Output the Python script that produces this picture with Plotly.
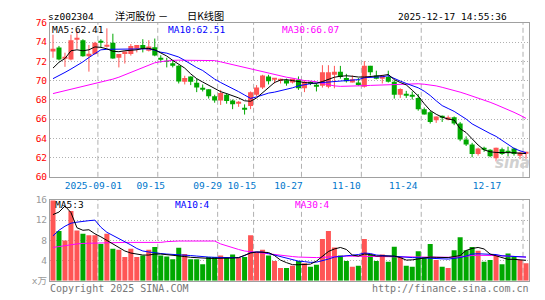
import plotly.graph_objects as go

W, H = 545, 300

# ---------------- data ----------------
opens = [73.03, 73.43, 72.28, 72.20, 74.30, 74.20, 72.53, 72.77, 74.00, 73.60,
         73.93, 72.37, 72.77, 72.77, 73.30, 73.70, 73.10, 73.47, 72.30, 72.00,
         71.80, 71.55, 69.87, 70.43, 69.77, 69.15, 69.10, 68.37, 67.93, 68.53,
         67.93, 67.60, 67.06, 67.37, 68.53, 69.27, 70.43, 70.15, 70.00, 70.03,
         69.80, 70.10, 69.20, 69.72, 69.50, 69.47, 69.37, 70.60, 70.93, 70.27,
         69.80, 69.80, 69.37, 71.53, 70.53, 70.27, 70.37, 69.87, 68.53, 68.55,
         68.40, 68.20, 67.03, 66.70, 65.87, 66.22, 65.93, 66.20, 65.53, 63.87,
         63.37, 62.37, 62.89, 62.80, 61.93, 62.87, 62.62, 62.93, 62.20, 62.42]
highs = [74.77, 73.60, 72.90, 74.77, 75.20, 74.30, 73.70, 74.03, 74.30, 75.43,
         74.87, 72.77, 73.03, 73.80, 73.70, 74.30, 74.20, 74.37, 72.63, 72.37,
         72.03, 71.60, 70.50, 70.43, 70.20, 69.60, 69.10, 68.53, 69.03, 68.70,
         68.03, 67.87, 67.53, 68.87, 69.53, 70.60, 70.60, 70.20, 70.20, 70.20,
         70.20, 70.43, 70.03, 69.93, 69.70, 71.60, 71.60, 71.53, 71.53, 70.70,
         70.53, 70.27, 72.03, 71.53, 71.03, 70.60, 71.03, 70.03, 69.20, 68.93,
         68.87, 68.60, 67.20, 66.87, 66.27, 66.37, 66.37, 66.27, 65.70, 64.20,
         63.53, 63.03, 63.13, 62.87, 63.03, 63.03, 63.13, 63.03, 62.60, 62.60]
lows = [72.37, 72.10, 71.43, 72.10, 73.30, 72.47, 70.93, 72.70, 73.43, 73.43,
        72.27, 71.37, 71.77, 72.60, 72.93, 72.93, 73.03, 72.53, 71.87, 71.37,
        71.37, 69.70, 69.60, 69.53, 68.80, 68.87, 68.13, 67.70, 67.47, 67.60,
        67.03, 67.27, 66.47, 67.03, 68.37, 69.13, 69.60, 69.70, 69.70, 69.47,
        69.70, 69.03, 68.80, 69.53, 68.87, 69.27, 69.20, 69.20, 70.20, 69.80,
        69.80, 69.47, 69.27, 70.53, 70.13, 69.70, 69.80, 68.13, 68.20, 68.20,
        68.03, 66.87, 66.47, 65.53, 65.60, 65.70, 65.87, 65.37, 63.70, 63.20,
        62.03, 62.20, 62.60, 62.03, 61.60, 62.27, 62.03, 62.20, 61.83, 61.87]
closes = [73.30, 72.20, 72.38, 74.20, 74.40, 72.53, 72.80, 73.93, 73.95, 73.67,
          72.30, 72.77, 73.03, 73.60, 73.70, 73.37, 73.53, 72.60, 72.25, 71.95,
          71.55, 69.90, 70.27, 69.87, 69.27, 69.10, 68.37, 67.93, 68.70, 67.87,
          67.53, 67.67, 67.00, 68.80, 69.27, 70.53, 69.93, 70.20, 70.05, 69.70,
          70.20, 69.20, 69.87, 69.68, 69.45, 70.87, 70.87, 70.93, 70.37, 69.93,
          70.13, 69.53, 71.53, 70.87, 70.20, 70.47, 69.87, 68.53, 69.13, 68.50,
          68.35, 67.03, 66.47, 65.70, 66.27, 66.18, 66.20, 65.53, 63.87, 63.37,
          62.37, 62.93, 62.85, 62.13, 63.03, 62.37, 62.58, 62.37, 62.53, 62.47]
volumes = [15.9, 9.84, 8.0, 13.8, 9.97, 9.33, 9.0, 9.0, 7.3, 9.33,
           6.35, 6.16, 4.7, 6.35, 4.7, 5.0, 6.16, 6.67, 5.0, 4.83,
           4.25, 6.54, 5.33, 4.25, 4.25, 3.3, 4.7, 4.7, 5.0, 4.57,
           5.2, 4.57, 4.7, 9.0, 5.7, 6.16, 5.0, 3.94, 2.54, 2.54,
           3.0, 3.94, 3.5, 2.8, 3.17, 8.25, 9.84, 6.6, 5.0, 3.94,
           2.8, 3.0, 8.25, 5.2, 3.94, 5.2, 3.75, 6.73, 4.7, 3.0,
           2.8, 5.84, 4.7, 7.3, 4.13, 2.8, 2.54, 6.03, 8.63, 6.03,
           6.67, 5.97, 3.75, 4.13, 5.0, 3.3, 5.4, 4.9, 4.13, 3.5]

ma5 = [71.3, 71.9, 72.3, 73.1, 73.2, 73.1, 73.2, 73.5, 73.45, 73.3,
       73.05, 73.0, 73.1, 73.15, 73.2, 73.35, 73.35, 73.2, 72.9, 72.55,
       72.1, 71.7, 71.3, 70.7, 70.2, 69.85, 69.5, 69.2, 68.85, 68.65,
       68.45, 68.2, 67.9, 67.85, 68.2, 68.75, 69.25, 69.8, 70.05, 70.1,
       70.0, 69.87, 69.8, 69.75, 69.72, 69.9, 70.1, 70.35, 70.45, 70.5,
       70.45, 70.37, 70.37, 70.4, 70.45, 70.53, 70.63, 70.1, 69.8, 69.55,
       69.0, 68.4, 67.6, 66.9, 66.5, 66.2, 66.0, 65.9, 65.0, 64.6,
       63.95, 63.3, 62.8, 62.6, 62.53, 62.53, 62.5, 62.5, 62.45, 62.41]
ma10 = [70.2, 70.5, 70.85, 71.2, 71.55, 71.95, 72.4, 72.8, 73.2, 73.25,
        73.25, 73.28, 73.3, 73.3, 73.3, 73.3, 73.3, 73.15, 72.95, 72.85,
        72.65, 72.45, 72.1, 71.7, 71.35, 71.05, 70.6, 70.15, 69.8, 69.5,
        69.2, 68.85, 68.5, 68.15, 68.3, 68.5, 68.7, 68.8, 68.95, 69.05,
        69.25, 69.45, 69.6, 69.68, 69.75, 69.8, 69.88, 69.95, 70.0, 70.05,
        70.08, 70.1, 70.3, 70.33, 70.37, 70.4, 70.5, 70.2, 69.95, 69.7,
        69.5, 69.25, 68.9, 68.45, 67.9, 67.4, 67.1, 66.8, 66.4, 66.0,
        65.5, 65.15, 64.8, 64.5, 64.2, 63.8, 63.4, 62.95, 62.7, 62.51]
ma30 = [68.65, 68.8, 68.95, 69.1, 69.25, 69.4, 69.55, 69.65, 69.8, 69.95,
        70.15, 70.35, 70.6, 70.85, 71.1, 71.4, 71.65, 71.85, 71.97, 72.05,
        72.1, 72.12, 72.12, 72.12, 72.1, 72.1, 72.1, 72.08, 71.95, 71.8,
        71.65, 71.5, 71.35, 71.2, 71.05, 70.9, 70.78, 70.65, 70.5, 70.35,
        70.25, 70.1, 70.0, 69.95, 69.88, 69.7, 69.55, 69.45, 69.4, 69.4,
        69.42, 69.45, 69.47, 69.5, 69.52, 69.55, 69.6, 69.62, 69.65, 69.68,
        69.68, 69.67, 69.62, 69.55, 69.45, 69.3, 69.15, 69.0, 68.8, 68.6,
        68.4, 68.15, 67.95, 67.75, 67.5, 67.25, 67.0, 66.7, 66.4, 66.07]
vma5 = [13.1, 13.6, 14.8, 13.5, 10.5, 10.0, 10.1, 9.3, 8.7, 8.0,
        7.3, 6.6, 5.9, 5.5, 5.3, 5.1, 5.1, 5.3, 5.3, 5.2,
        5.1, 4.95, 4.8, 4.65, 4.55, 4.45, 4.45, 4.44, 4.44, 4.44,
        4.5, 4.6, 5.1, 5.5, 5.7, 5.7, 5.6, 5.0, 4.1, 3.6,
        3.2, 3.17, 3.17, 3.3, 3.9, 4.9, 5.8, 6.3, 6.6, 6.2,
        5.1, 4.9, 5.3, 5.2, 4.9, 4.9, 4.9, 4.9, 4.6, 4.1,
        4.15, 4.3, 4.5, 4.7, 4.65, 4.6, 4.6, 4.8, 5.0, 6.0,
        6.4, 6.6, 6.3, 5.3, 4.9, 4.5, 4.25, 4.25, 4.2, 4.06]
vma10 = [8.9, 10.0, 10.8, 11.4, 11.6, 11.8, 11.9, 12.0, 10.6, 9.6,
         9.0, 8.4, 7.8, 7.1, 6.4, 5.9, 5.7, 5.5, 5.4, 5.3,
         5.25, 5.2, 5.1, 5.0, 4.9, 4.75, 4.7, 4.65, 4.6, 4.57,
         4.57, 4.57, 5.0, 5.6, 5.7, 5.7, 5.4, 5.1, 4.9, 4.6,
         4.2, 3.9, 3.8, 3.65, 3.7, 3.95, 4.3, 4.7, 4.8, 4.9,
         5.0, 5.2, 5.5, 5.4, 5.1, 5.0, 4.9, 4.8, 4.7, 4.65,
         4.6, 4.57, 4.5, 4.45, 4.35, 4.25, 4.3, 4.45, 4.6, 4.9,
         5.3, 5.35, 5.33, 5.3, 5.2, 4.95, 4.9, 4.9, 4.85, 4.7]
vma30 = [6.6, 6.8, 6.9, 7.1, 7.3, 7.4, 7.45, 7.5, 7.55, 7.6,
         7.6, 7.6, 7.6, 7.6, 7.6, 7.6, 7.6, 7.6, 7.6, 7.75,
         7.87, 7.87, 7.87, 7.87, 7.87, 7.87, 7.87, 7.87, 7.3, 6.9,
         6.5, 6.2, 5.9, 5.75, 5.6, 5.5, 5.35, 5.15, 5.0, 4.9,
         4.8, 4.7, 4.65, 4.6, 4.6, 4.65, 4.75, 4.85, 4.9, 4.9,
         4.87, 4.83, 4.83, 4.82, 4.8, 4.8, 4.78, 4.76, 4.74, 4.72,
         4.7, 4.68, 4.66, 4.64, 4.62, 4.6, 4.6, 4.65, 4.75, 4.9,
         5.0, 5.05, 5.08, 5.05, 5.0, 4.95, 4.85, 4.8, 4.75, 4.7]

tick_pos = [8, 18, 28, 34, 42, 52, 62, 79]
tick_labels = ["2025-09-01", "09-15", "09-29", "10-15", "10-27", "11-10", "11-24", "12-17"]
price_ticks = [60, 62, 64, 66, 68, 70, 72, 74, 76]
vol_ticks = [0, 4, 8, 12, 16]
vol_tick_text = ["x万", "4", "8", "12", "16"]

# ---------------- styling ----------------
RED = "#ff5555"
GREEN = "#00a800"
FRAME = "#a0a0a0"
GRID = "#b0b0b0"
MONO = "DejaVu Sans Mono, Liberation Mono, monospace"
CJK = "Noto Sans CJK SC, sans-serif"
FS = 9.5
# pixel offsets of date labels relative to their grid lines (as drawn in reference)
label_dx_px = [-4.6, -7, -10, -11.7, -13, -15, -18, -36]

def px_x(p):
    return p / W

def px_y(p):
    return 1 - p / H

X0, X1 = 50, 529
UP_TOP, UP_BOT = 17.5, 177.3
LO_TOP, LO_BOT = 201.3, 285.3
n = len(closes)
step_px = (X1 - X0) / n

idx = list(range(n))
up = [c >= o for o, c in zip(opens, closes)]
cols = [RED if u else GREEN for u in up]
body_base = [min(o, c) for o, c in zip(opens, closes)]
body_h = [max(abs(c - o), 0.1) for o, c in zip(opens, closes)]

fig = go.Figure()

# wicks
for flag, col in ((True, RED), (False, GREEN)):
    xs, ys = [], []
    for i in idx:
        if up[i] == flag:
            xs += [i, i, None]
            ys += [lows[i], highs[i], None]
    fig.add_trace(go.Scatter(x=xs, y=ys, mode="lines", line=dict(color=col, width=1),
                             xaxis="x", yaxis="y", hoverinfo="skip", showlegend=False))
# bodies
fig.add_trace(go.Bar(x=idx, y=body_h, base=body_base, width=0.84,
                     marker=dict(color=cols, line=dict(width=0)),
                     xaxis="x", yaxis="y", hoverinfo="skip", showlegend=False))
# price MAs
for arr, col in ((ma30, "#ff00ff"), (ma10, "#0000ff"), (ma5, "#000000")):
    fig.add_trace(go.Scatter(x=idx, y=arr, mode="lines", line=dict(color=col, width=1),
                             xaxis="x", yaxis="y", hoverinfo="skip", showlegend=False))
# volume bars
fig.add_trace(go.Bar(x=idx, y=volumes, width=0.84,
                     marker=dict(color=cols, line=dict(width=0)),
                     xaxis="x2", yaxis="y2", hoverinfo="skip", showlegend=False))
for arr, col in ((vma30, "#ff00ff"), (vma10, "#0000ff"), (vma5, "#000000")):
    fig.add_trace(go.Scatter(x=idx, y=arr, mode="lines", line=dict(color=col, width=1),
                             xaxis="x2", yaxis="y2", hoverinfo="skip", showlegend=False))

# vertical dashed grid lines at the date boundaries
shapes = []
for p in tick_pos:
    for xr, yr in (("x", "y domain"), ("x2", "y2 domain")):
        shapes.append(dict(type="line", xref=xr, yref=yr,
                           x0=p - 0.5, x1=p - 0.5, y0=0, y1=1, layer="below",
                           line=dict(color=GRID, width=1, dash="5px,3px")))

label_vals = [p - 0.5 + dx / step_px for p, dx in zip(tick_pos, label_dx_px)]

xdom = [px_x(X0), px_x(X1)]
common_x = dict(domain=xdom, range=[-0.5, n - 0.5], showgrid=False, zeroline=False,
                showline=True, mirror=True, linecolor=FRAME, linewidth=1, ticks="",
                fixedrange=True)

annotations = []
def txt(s, x, y, color="#000000", size=FS, family=MONO, xanchor="left"):
    annotations.append(dict(text=s, x=px_x(x), y=px_y(y), xref="paper", yref="paper",
                            xanchor=xanchor, yanchor="middle", showarrow=False,
                            borderpad=0,
                            font=dict(color=color, size=size, family=family)))

txt("sz002304", 47, 10.5)
txt("洋河股份 －", 114, 10, size=10.2, family=CJK)
txt("日K线图", 186, 10, size=10.2, family=CJK)
txt("2025-12-17 14:55:36", 508, 11, xanchor="right")
txt(f"MA5:{ma5[-1]:.2f}", 51, 24)
txt(f"MA10:{ma10[-1]:.2f}", 166.5, 24, color="#0000ff")
txt(f"MA30:{ma30[-1]:.2f}", 281.5, 24, color="#ff00ff")
txt("MA5:3", 53.7, 206.5)
txt("MA10:4", 173.7, 206.5, color="#0000ff")
txt("MA30:4", 293.7, 206.5, color="#ff00ff")
txt("Copyright 2025 SINA.COM", 49, 293.5, color="#777777", size=10)
txt("http://finance.sina.com.cn", 530, 293.5, color="#777777", size=10, xanchor="right")
txt("<b><i>sina</i></b>", 512, 163, color="#d0d0d0", size=15, family="DejaVu Sans", xanchor="center")

fig.update_layout(
    width=W, height=H,
    margin=dict(l=0, r=0, t=0, b=0),
    paper_bgcolor="white", plot_bgcolor="white",
    showlegend=False, hovermode=False, barmode="overlay",
    xaxis=dict(**common_x, anchor="y", tickmode="array", tickvals=label_vals,
               ticktext=tick_labels, showticklabels=True,
               tickfont=dict(color="#0077cc", size=FS, family=MONO)),
    xaxis2=dict(**common_x, anchor="y2", showticklabels=False),
    yaxis=dict(domain=[px_y(UP_BOT), px_y(UP_TOP)], range=[60, 76], anchor="x",
               tickmode="array", tickvals=price_ticks, ticks="",
               tickfont=dict(color="#ff0000", size=FS, family=MONO),
               showgrid=True, gridcolor=GRID, griddash="1px,2px", gridwidth=1,
               zeroline=False, showline=True, mirror=True, linecolor=FRAME, linewidth=1,
               fixedrange=True),
    yaxis2=dict(domain=[px_y(LO_BOT), px_y(LO_TOP)], range=[0, 16], anchor="x2",
                tickmode="array", tickvals=vol_ticks, ticktext=vol_tick_text, ticks="",
                tickfont=dict(color="#999999", size=FS, family=MONO + ", " + CJK),
                showgrid=True, gridcolor=GRID, griddash="1px,2px", gridwidth=1,
                zeroline=False, showline=True, mirror=True, linecolor=FRAME, linewidth=1,
                fixedrange=True),
    shapes=shapes,
    annotations=annotations,
)

fig.write_html("out.html", config={"displayModeBar": False})
